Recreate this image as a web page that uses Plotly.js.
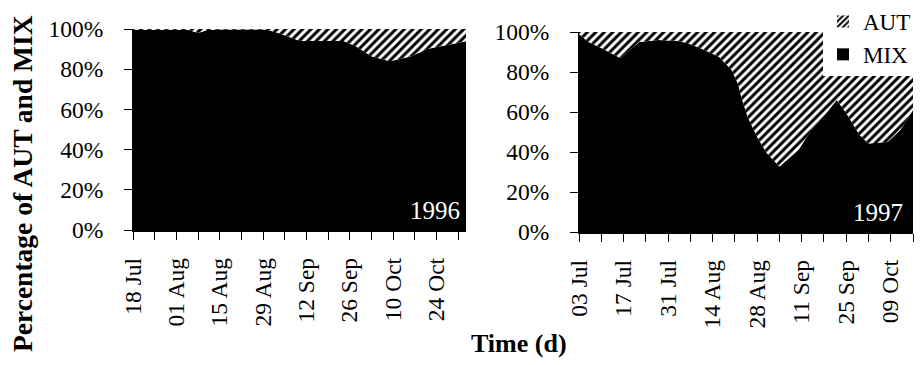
<!DOCTYPE html>
<html>
<head>
<meta charset="utf-8">
<script src="https://cdn.plot.ly/plotly-3.0.1.min.js"></script>
<style>html,body{margin:0;padding:0;background:#fff;}#chart{width:922px;height:365px;}</style>
</head>
<body>
<div id="chart"></div>
<script>
// 1996 panel: share of MIX (%) over time
var dates96 = ['1996-07-18','1996-07-25','1996-08-01','1996-08-05','1996-08-08','1996-08-11','1996-08-15','1996-08-22','1996-08-30','1996-09-03','1996-09-08','1996-09-10','1996-09-17','1996-09-24','1996-09-28','1996-10-03','1996-10-09','1996-10-16','1996-10-21','1996-10-26','1996-11-03'];
var mix96 = [99.5, 99.7, 99.6, 99.5, 98, 99.5, 99.8, 99.8, 99.7, 98, 95, 94, 94, 94, 91.4, 86.4, 84, 86.4, 90, 91.4, 94];

// 1997 panel: share of MIX (%) over time
var dates97 = ['1997-07-03','1997-07-06','1997-07-10','1997-07-16','1997-07-19','1997-07-22','1997-07-28','1997-08-03','1997-08-06','1997-08-10','1997-08-16','1997-08-20','1997-08-22','1997-08-23','1997-08-25','1997-08-28','1997-08-31','1997-09-04','1997-09-10','1997-09-14','1997-09-19','1997-09-22','1997-09-25','1997-09-29','1997-10-02','1997-10-08','1997-10-12','1997-10-16'];
var mix97 = [99, 95, 92, 87, 91, 95, 96, 95.5, 94.5, 92, 87.6, 81, 74, 67.6, 57.6, 47.6, 39.5, 32.7, 41, 51, 60, 66, 59.5, 49, 44.3, 45, 51, 61];

var seriesNames = ['AUT', 'MIX'];
var yTicks = [0, 20, 40, 60, 80, 100];
var yTickLabels = ['0%', '20%', '40%', '60%', '80%', '100%'];
var panelLabels = ['1996', '1997'];

function rest(arr) { return arr.map(function (v) { return 100 - v; }); }

var serif = 'Liberation Serif, Times New Roman, serif';
var pattern = {shape: '/', fgcolor: '#000', bgcolor: '#fff', size: 6, solidity: 0.5};
var DAY = 86400000;

var traces = [
  // legend entries (drawn first so AUT is listed above MIX)
  {x: [dates97[0]], y: [0], xaxis: 'x2', yaxis: 'y2', type: 'bar', name: seriesNames[0],
   marker: {color: '#fff', line: {width: 0}, pattern: {shape: '/', fgcolor: '#000', bgcolor: '#fff', size: 5, solidity: 0.5}}, hoverinfo: 'skip'},
  {x: [dates97[0]], y: [0], xaxis: 'x2', yaxis: 'y2', type: 'bar', name: seriesNames[1],
   marker: {color: '#000', line: {width: 0}}, hoverinfo: 'skip'},
  {x: dates96, y: mix96, xaxis: 'x', yaxis: 'y', type: 'scatter', mode: 'lines', stackgroup: 'a',
   line: {width: 0, color: '#000'}, fillcolor: '#000', showlegend: false, hoverinfo: 'skip'},
  {x: dates96, y: rest(mix96), xaxis: 'x', yaxis: 'y', type: 'scatter', mode: 'lines', stackgroup: 'a',
   line: {width: 0, color: '#000'}, fillcolor: '#fff', fillpattern: pattern, showlegend: false, hoverinfo: 'skip'},
  {x: dates97, y: mix97, xaxis: 'x2', yaxis: 'y2', type: 'scatter', mode: 'lines', stackgroup: 'b',
   line: {width: 0, color: '#000'}, fillcolor: '#000', showlegend: false, hoverinfo: 'skip'},
  {x: dates97, y: rest(mix97), xaxis: 'x2', yaxis: 'y2', type: 'scatter', mode: 'lines', stackgroup: 'b',
   line: {width: 0, color: '#000'}, fillcolor: '#fff', fillpattern: pattern, showlegend: false, hoverinfo: 'skip'}
];

function xaxis(domain, range, tick0) {
  return {
    domain: domain, type: 'date', range: range, tick0: tick0, dtick: 14 * DAY, tickformat: '%d %b',
    tickangle: -90, ticks: 'outside', ticklen: 8, tickcolor: '#000', tickwidth: 1,
    minor: {dtick: 7 * DAY, tick0: tick0, ticks: 'outside', ticklen: 8, tickcolor: '#000', tickwidth: 1, showgrid: false},
    showline: true, linecolor: '#000', linewidth: 1.5, showgrid: false, zeroline: false,
    ticklabelstandoff: 9,
    tickfont: {family: serif, size: 23.5, color: '#000'}, fixedrange: true
  };
}
function yaxis(domain, anchor) {
  return {
    domain: domain, anchor: anchor, range: [0, 100], tickvals: yTicks, ticktext: yTickLabels,
    ticks: 'outside', ticklen: 8, tickcolor: '#000', showline: true, linecolor: '#000', linewidth: 1,
    showgrid: false, zeroline: false, ticklabelstandoff: 16,
    tickfont: {family: serif, size: 23.5, color: '#000'}, fixedrange: true
  };
}

var xa1 = xaxis([133 / 922, 466 / 922], ['1996-07-18', '1996-11-02 14:00'], '1996-07-18');
xa1.anchor = 'y';
var xa2 = xaxis([579 / 922, 913 / 922], ['1997-07-03', '1997-10-16'], '1997-07-03');
xa2.anchor = 'y2';

var layout = {
  width: 922, height: 365,
  margin: {l: 0, r: 0, t: 0, b: 0},
  paper_bgcolor: '#fff', plot_bgcolor: '#fff',
  xaxis: xa1,
  yaxis: yaxis([(365 - 230) / 365, (365 - 29) / 365], 'x'),
  xaxis2: xa2,
  yaxis2: yaxis([(365 - 232) / 365, (365 - 32) / 365], 'x2'),
  showlegend: true,
  legend: {x: 823 / 922, y: 1, xanchor: 'left', yanchor: 'top', bgcolor: '#fff', borderwidth: 0, traceorder: 'normal',
           font: {family: serif, size: 23, color: '#000'}, itemwidth: 30, tracegroupgap: 0},
  annotations: [
    {text: panelLabels[0], xref: 'x domain', yref: 'y domain', x: 0.988, y: 0.02, xanchor: 'right', yanchor: 'bottom',
     showarrow: false, font: {family: serif, size: 25, color: '#fff'}},
    {text: panelLabels[1], xref: 'x2 domain', yref: 'y2 domain', x: 0.976, y: 0.02, xanchor: 'right', yanchor: 'bottom',
     showarrow: false, font: {family: serif, size: 25, color: '#fff'}},
    {text: '<b>Percentage of AUT and MIX</b>', xref: 'paper', yref: 'paper', x: 23 / 922, y: (365 - 184) / 365,
     xanchor: 'center', yanchor: 'middle',
     textangle: -90, showarrow: false, font: {family: serif, size: 27.5, color: '#000'}},
    {text: '<b>Time (d)</b>', xref: 'paper', yref: 'paper', x: 519 / 922, y: (365 - 360) / 365,
     xanchor: 'center', yanchor: 'bottom',
     showarrow: false, font: {family: serif, size: 26, color: '#000'}}
  ]
};

Plotly.newPlot('chart', traces, layout, {displayModeBar: false, staticPlot: true});
</script>
</body>
</html>
